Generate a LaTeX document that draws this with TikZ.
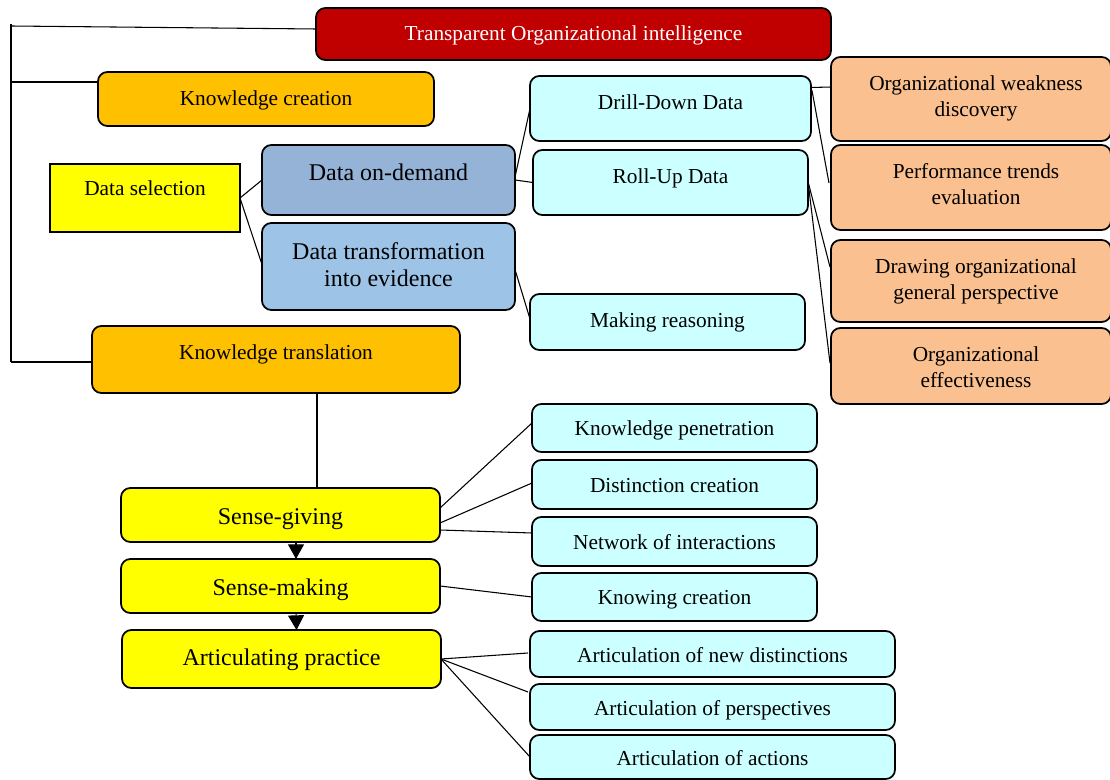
\documentclass[tikz,border=0pt]{standalone}
\usepackage{fontspec}
\setmainfont{Liberation Serif}
\usetikzlibrary{arrows.meta}
\definecolor{tred}{HTML}{C00000}
\definecolor{gold}{HTML}{FFC000}
\definecolor{yel}{HTML}{FFFF00}
\definecolor{blueA}{HTML}{95B3D7}
\definecolor{blueB}{HTML}{9DC3E6}
\definecolor{cyanbox}{HTML}{CCFFFF}
\definecolor{orng}{HTML}{FAC090}
\tikzset{
  rbox/.style={draw=black, line width=1.3pt, rounded corners=7pt, inner sep=0pt, outer sep=0pt},
  sbox/.style={draw=black, line width=1.3pt, inner sep=0pt, outer sep=0pt},
  conn/.style={draw=black, line width=0.8pt},
  sm/.style={font=\fontsize{16}{19.5}\selectfont, inner sep=0pt, anchor=mid},
  smtwo/.style={font=\fontsize{16}{19.5}\selectfont, inner sep=0pt, align=center, anchor=center},
  lg/.style={font=\fontsize{18}{20.5}\selectfont, inner sep=0pt, anchor=mid},
  lgtwo/.style={font=\fontsize{18}{20.5}\selectfont, inner sep=0pt, align=center, anchor=center},
  flowarrow/.style={draw=black, line width=0.8pt, -{Triangle[width=12pt,length=11pt]}},
}
\newcommand\bx[9]{%
  \pgfmathsetmacro\bw{(#5-#3)*0.75}%
  \pgfmathsetmacro\bh{(#6-#4)*0.75}%
  \node[#2, minimum width=\bw pt, minimum height=\bh pt] (#1) at ({(#3+#5)/2},{(#4+#6)/2}) {};
  \node[#7] (#1-t) at ({(#3+#5)/2},#8) {#9};%
}
\begin{document}
\begin{tikzpicture}[x=0.75pt, y=-0.75pt]
\useasboundingbox (0,0) rectangle (1110,780);
% boxes
\bx{title}{rbox, fill=tred}{316}{8}{831}{60}{sm, text=white}{37}{Transparent Organizational intelligence}
\bx{kc}{rbox, fill=gold}{98}{72}{434}{126}{sm}{102}{Knowledge creation}
\bx{ds}{sbox, fill=yel}{50}{164}{240}{232}{sm}{192}{Data selection}
\bx{dod}{rbox, fill=blueA}{262}{145}{515}{215}{lg}{177}{Data on-demand}
\bx{dte}{rbox, fill=blueB}{262}{223}{515}{310}{lgtwo}{264.5}{Data transformation\\into evidence}
\bx{dd}{rbox, fill=cyanbox}{530}{76}{811}{141}{sm}{106}{Drill-Down Data}
\bx{ru}{rbox, fill=cyanbox}{533}{150}{808}{215}{sm}{180}{Roll-Up Data}
\bx{mr}{rbox, fill=cyanbox}{530}{294}{805}{350}{sm}{324}{Making reasoning}
\bx{oa}{rbox, fill=orng}{831}{57}{1111}{141}{smtwo, xshift=3.75pt}{98}{Organizational weakness\\discovery}
\bx{ob}{rbox, fill=orng}{831}{145}{1111}{230}{smtwo, xshift=3.75pt}{184}{Performance trends\\evaluation}
\bx{oc}{rbox, fill=orng}{831}{240}{1111}{322}{smtwo, xshift=3.75pt}{281}{Drawing organizational\\general perspective}
\bx{od}{rbox, fill=orng}{831}{328}{1111}{404}{smtwo, xshift=3.75pt}{367.5}{Organizational\\effectiveness}
\bx{kt}{rbox, fill=gold}{92}{326}{460}{393}{sm}{356}{Knowledge translation}
\bx{sg}{rbox, fill=yel}{121}{488}{440}{542}{lg}{521}{Sense-giving}
\bx{smk}{rbox, fill=yel}{121}{559}{440}{613}{lg}{592}{Sense-making}
\bx{ap}{rbox, fill=yel}{122}{630}{441}{688}{lg}{662}{Articulating practice}
\bx{kp}{rbox, fill=cyanbox}{532}{404}{817}{452}{sm}{432}{Knowledge penetration}
\bx{dc}{rbox, fill=cyanbox}{532}{460}{817}{509}{sm}{489}{Distinction creation}
\bx{ni}{rbox, fill=cyanbox}{532}{517}{817}{566}{sm}{546}{Network of interactions}
\bx{kcr}{rbox, fill=cyanbox}{532}{573}{817}{621}{sm}{601}{Knowing creation}
\bx{an}{rbox, fill=cyanbox}{530}{631}{895}{677}{sm}{659}{Articulation of new distinctions}
\bx{apr}{rbox, fill=cyanbox}{530}{684}{895}{730}{sm}{712}{Articulation of perspectives}
\bx{aa}{rbox, fill=cyanbox}{530}{735}{895}{779}{sm}{762}{Articulation of actions}
% trunk
\coordinate (t0) at (11,24);
\coordinate (t0b) at (11,26);
\coordinate (t1) at (11,82);
\coordinate (t2) at (11,362);
\draw[conn] (t0) -- (t2);
\draw[conn] (t0b) -- ([shift={(0,-5)}]title.west);
\draw[conn] (t1) -- (kc.west |- t1);
\draw[conn] (t2) -- (kt.west |- t2);
% data selection
\draw[conn] (ds.east) -- (dod.west);
\draw[conn] (ds.east) -- ([shift={(0,-2)}]dte.west);
\draw[conn] ([shift={(0,-3)}]dod.east) -- (dd.west);
\draw[conn] (dod.east) -- (ru.west);
\draw[conn] ([shift={(0,3)}]dte.east) -- ([shift={(0,-3)}]mr.west);
% right orange
\draw[conn] ([shift={(0,-21)}]dd.east) -- ([shift={(0,-12)}]oa.west);
\draw[conn] ([shift={(1,-18)}]dd.east) -- ([shift={(-2,-4.5)}]ob.west);
\draw[conn] ([shift={(0,-1)}]ru.east) -- ([shift={(-1,-14)}]oc.west);
\draw[conn] ([shift={(0,-1)}]ru.east) -- ([shift={(-1,-3)}]od.west);
% knowledge translation chain
\draw[conn] ([shift={(41,0)}]kt.south) -- ([shift={(36.5,0)}]sg.north);
\draw[flowarrow] ([shift={(15.5,0)}]sg.south) -- ([shift={(15.5,0)}]smk.north);
\draw[flowarrow] ([shift={(15.5,0)}]smk.south) -- ([shift={(15,0)}]ap.north);
% sense-giving
\draw[conn] ([shift={(0,-7)}]sg.east) -- ([shift={(0,-5)}]kp.west);
\draw[conn] ([shift={(0,8)}]sg.east) -- ([shift={(0,-1.5)}]dc.west);
\draw[conn] ([shift={(0,15)}]sg.east) -- ([shift={(0,-8.5)}]ni.west);
\draw[conn] (smk.east) -- (kcr.west);
\draw[conn] (ap.east) -- ([shift={(-2,-1)}]an.west);
\draw[conn] (ap.east) -- ([shift={(-2,-15)}]apr.west);
\draw[conn] (ap.east) -- (aa.west);
\end{tikzpicture}
\end{document}
